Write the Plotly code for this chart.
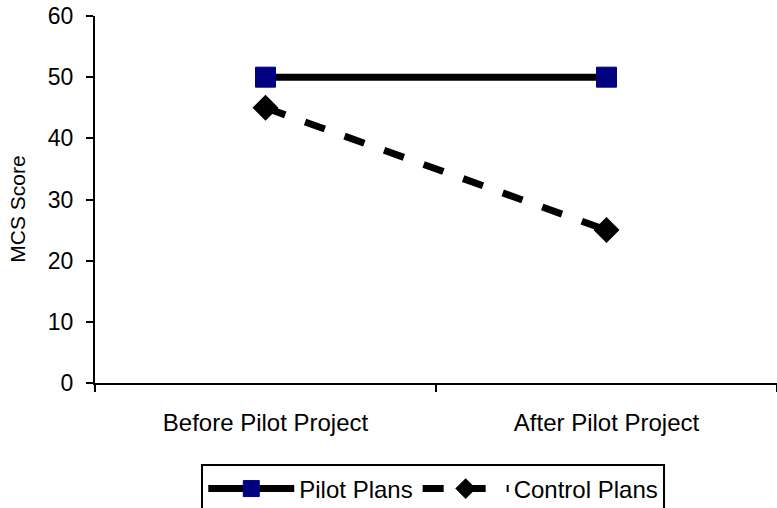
import plotly.graph_objects as go

categories = ["Before Pilot Project", "After Pilot Project"]
pilot_plans = [50, 50]
control_plans = [45, 25]
y_ticks = [0, 10, 20, 30, 40, 50, 60]

FONT = "Arial, Liberation Sans, sans-serif"

fig = go.Figure()
fig.add_trace(go.Scatter(
    x=categories, y=pilot_plans, name="Pilot Plans", mode="lines+markers",
    line=dict(color="black", width=7),
    marker=dict(symbol="square", size=20, color="#000080",
                line=dict(color="#000080", width=1)),
))
fig.add_trace(go.Scatter(
    x=categories, y=control_plans, name="Control Plans", mode="lines+markers",
    line=dict(color="black", width=7, dash="dash"),
    marker=dict(symbol="diamond", size=20, color="black"),
))

fig.update_layout(
    width=777, height=508,
    margin=dict(l=95, r=0, t=16, b=124.5, autoexpand=False),
    paper_bgcolor="white", plot_bgcolor="white",
    font=dict(family=FONT, color="black"),
    showlegend=True,
    legend=dict(
        orientation="h", x=0.496, xanchor="center", y=-0.222, yanchor="top",
        bordercolor="black", borderwidth=2, bgcolor="white",
        font=dict(size=24, family=FONT, color="black"),
        itemwidth=86,
    ),
    xaxis=dict(
        type="category", range=[-0.5, 1.5],
        showline=True, linecolor="black", linewidth=2,
        ticks="outside", tickson="boundaries", ticklen=7, tickwidth=2, tickcolor="black",
        showgrid=False, zeroline=False,
        tickfont=dict(size=24, family=FONT, color="black"),
        ticklabelstandoff=17,
    ),
    yaxis=dict(
        range=[0, 60], tickvals=y_ticks,
        showline=True, linecolor="black", linewidth=2,
        ticks="outside", ticklen=7, tickwidth=2, tickcolor="black",
        showgrid=False, zeroline=False,
        tickfont=dict(size=23, family=FONT, color="black"),
        ticklabelstandoff=8,
    ),
    annotations=[dict(
        text="MCS Score", textangle=-90, xref="paper", yref="paper",
        x=(18 - 95) / 682, y=(383.5 - 210) / 367.5, xanchor="center", yanchor="middle",
        showarrow=False, font=dict(size=21, family=FONT, color="black"),
    )],
)

fig.write_html(
    "out.html",
    config={"displayModeBar": False},
    post_script="document.body.style.margin='0';document.body.style.overflow='hidden';",
)
